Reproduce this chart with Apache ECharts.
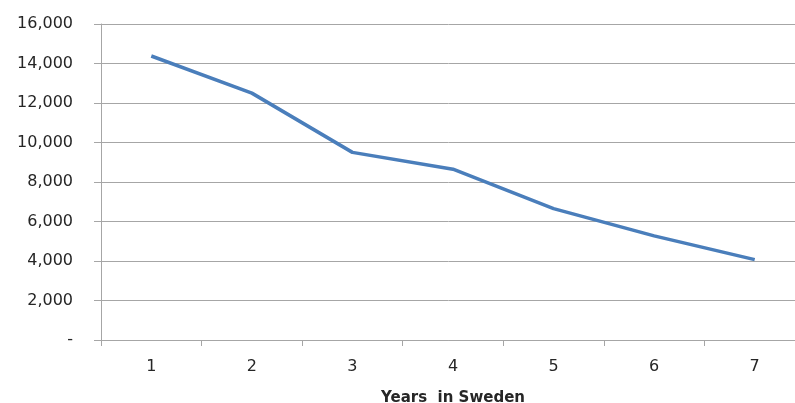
<!DOCTYPE html>
<html>
<head>
<meta charset="utf-8">
<script src="https://cdn.jsdelivr.net/npm/echarts@6/dist/echarts.min.js"></script>
<style>
  html, body { margin: 0; padding: 0; background: #ffffff; }
  #chart { width: 795px; height: 403px; }
</style>
</head>
<body>
<div id="chart"></div>
<script>
// Years since arrival
const years = ['1', '2', '3', '4', '5', '6', '7'];
// Values per year
const values = [14380, 12500, 9500, 8650, 6650, 5270, 4070];
// Value axis settings
const yMin = 0;
const yMax = 16000;
const yStep = 2000;

const gridColor = '#a6a6a6';
const textColor = '#262626';

const chart = echarts.init(document.getElementById('chart'), null, { renderer: 'canvas' });

chart.setOption({
  animation: false,
  backgroundColor: '#ffffff',
  grid: {
    left: 101, top: 24, width: 704, height: 316,
    containLabel: false,
    outerBoundsMode: 'none'
  },
  xAxis: {
    type: 'category',
    data: years,
    boundaryGap: true,
    name: 'Years  in Sweden',
    nameLocation: 'middle',
    nameGap: 51,
    nameTextStyle: { fontFamily: 'DejaVu Sans', fontSize: 15, fontWeight: 'bold', color: textColor },
    axisLine: { show: true, lineStyle: { color: gridColor, width: 1 } },
    axisTick: { show: true, length: 6, alignWithLabel: false, lineStyle: { color: gridColor } },
    axisLabel: { margin: 19, fontFamily: 'DejaVu Sans', fontSize: 16, color: textColor },
    splitLine: { show: false }
  },
  yAxis: {
    type: 'value',
    min: yMin,
    max: yMax,
    interval: yStep,
    axisLine: { show: true, lineStyle: { color: gridColor, width: 1 } },
    axisTick: { show: true, length: 7, lineStyle: { color: gridColor } },
    axisLabel: {
      margin: 28,
      fontFamily: 'DejaVu Sans',
      fontSize: 16,
      color: textColor,
      formatter: function (v) {
        return v === 0 ? '-' : v.toLocaleString('en-US');
      }
    },
    splitLine: { show: true, lineStyle: { color: gridColor, width: 1 } }
  },
  series: [{
    type: 'line',
    data: values,
    symbol: 'none',
    smooth: false,
    lineStyle: { color: '#4a7ebb', width: 3.5 },
    itemStyle: { color: '#4a7ebb' }
  }]
});
</script>
</body>
</html>
